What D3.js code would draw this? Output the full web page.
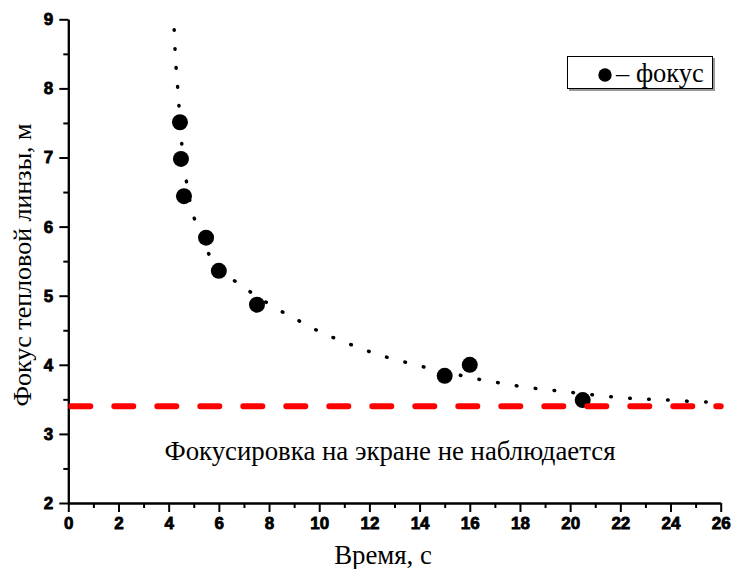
<!DOCTYPE html>
<html><head><meta charset="utf-8">
<script src="https://cdn.jsdelivr.net/npm/d3@7"></script>
<style>html,body{margin:0;padding:0;background:#fff;}
.serif{font-family:"Liberation Serif","Times New Roman",serif;}
</style>
</head><body>
<script>
// Data
const focusTime = [4.45, 4.49, 4.61, 5.49, 6.0, 7.52, 15.0, 16.0, 20.5];
const focusValue = [7.51, 6.98, 6.44, 5.84, 5.36, 4.87, 3.84, 4.0, 3.49];
const fitTime = [4.22, 4.25, 4.29, 4.36, 4.41, 4.50, 4.68, 4.93, 5.54, 6.0, 6.94, 7.6, 8.43, 9.24, 9.92, 10.64, 11.42, 12.14, 12.86, 13.62, 14.36, 15.1, 15.85, 16.6, 17.34, 18.08, 18.83, 19.56, 20.3, 21.06, 21.80, 22.55, 23.28, 24.01, 24.77, 25.51, 25.8];
const fitValue = [8.85, 8.58, 8.31, 8.02, 7.76, 7.23, 6.69, 6.16, 5.61, 5.38, 5.13, 4.97, 4.78, 4.63, 4.49, 4.38, 4.27, 4.17, 4.09, 4.02, 3.95, 3.89, 3.83, 3.77, 3.73, 3.68, 3.65, 3.62, 3.59, 3.56, 3.53, 3.51, 3.50, 3.49, 3.47, 3.46, 3.455];
const thresholdValue = 3.4;
const xTicks = [0, 2, 4, 6, 8, 10, 12, 14, 16, 18, 20, 22, 24, 26];
const yTicks = [2, 3, 4, 5, 6, 7, 8, 9];
const xTitle = "Время, с";
const yTitle = "Фокус тепловой линзы, м";
const noteText = "Фокусировка на экране не наблюдается";
const legendLabel = "– фокус";

const W = 732, H = 569;
const svg = d3.select("body").append("svg").attr("width", W).attr("height", H);

const x = d3.scaleLinear().domain([0, 26]).range([68.3, 720.7]);
const y = d3.scaleLinear().domain([2, 9]).range([503, 19.3]);

// Axes
const tickFont = "'Liberation Sans', Arial, sans-serif";
const xAxis = d3.axisBottom(x).tickValues(xTicks).tickSize(9).tickSizeOuter(0).tickPadding(5).tickFormat(d3.format("d"));
const xMinor = d3.axisBottom(x).tickValues(d3.range(1, 26, 2)).tickSize(5).tickSizeOuter(0).tickFormat("");
const yAxis = d3.axisLeft(y).tickValues(yTicks).tickSize(9).tickSizeOuter(0).tickPadding(6).tickFormat(d3.format("d"));
const yMinor = d3.axisLeft(y).tickValues(d3.range(2.5, 9, 1)).tickSize(5).tickSizeOuter(0).tickFormat("");

function styleAxis(g) {
  g.selectAll("path.domain").attr("stroke", "#000").attr("stroke-width", 2);
  g.selectAll(".tick line").attr("stroke", "#000").attr("stroke-width", 2);
  g.selectAll(".tick text").attr("fill", "#000").style("font-family", tickFont)
    .style("font-weight", "bold").style("font-size", "17px")
    .attr("stroke", "#000").attr("stroke-width", 0.8);
}
svg.append("g").attr("transform", `translate(0,${y(2)})`).call(xMinor).call(styleAxis);
svg.append("g").attr("transform", `translate(0,${y(2)})`).call(xAxis).call(styleAxis);
svg.append("g").attr("transform", `translate(${x(0)},0)`).call(yMinor).call(styleAxis);
svg.append("g").attr("transform", `translate(${x(0)},0)`).call(yAxis).call(styleAxis);

// Fitted dotted curve
const fitData = fitTime.map((t, i) => [t, fitValue[i]]);
const line = d3.line().x(d => x(d[0])).y(d => y(d[1])).curve(d3.curveBasis);
svg.append("path").datum(fitData).attr("d", line)
  .attr("fill", "none").attr("stroke", "#000").attr("stroke-width", 3.5)
  .attr("stroke-linecap", "round").attr("stroke-dasharray", "0.6 18.4");

// Data markers
const pts = focusTime.map((t, i) => [t, focusValue[i]]);
svg.append("g").selectAll("circle").data(pts).join("circle")
  .attr("cx", d => x(d[0])).attr("cy", d => y(d[1])).attr("r", 8).attr("fill", "#000");

// Red threshold line
svg.append("line")
  .attr("x1", x(0)).attr("x2", x(26)).attr("y1", y(thresholdValue)).attr("y2", y(thresholdValue))
  .attr("stroke", "#ff0000").attr("stroke-width", 6).attr("stroke-linecap", "round")
  .attr("stroke-dasharray", "19 24").attr("stroke-dashoffset", -3);

// Annotation
svg.append("text").attr("class", "serif").attr("x", 390).attr("y", 460).attr("text-anchor", "middle")
  .attr("font-size", 26.8).text(noteText);

// Axis titles
svg.append("text").attr("class", "serif").attr("x", 383).attr("y", 564).attr("text-anchor", "middle")
  .attr("font-size", 26.8).text(xTitle);
svg.append("text").attr("class", "serif").attr("transform", "translate(31,265) rotate(-90)").attr("text-anchor", "middle")
  .attr("font-size", 26).text(yTitle);

// Legend
const lg = svg.append("g");
lg.append("rect").attr("x", 569).attr("y", 58).attr("width", 146).attr("height", 33).attr("fill", "#999");
lg.append("rect").attr("x", 567.5).attr("y", 56.5).attr("width", 145).attr("height", 32)
  .attr("fill", "#fff").attr("stroke", "#000").attr("stroke-width", 1);
lg.append("circle").attr("cx", 605).attr("cy", 75).attr("r", 6.7).attr("fill", "#000");
lg.append("text").attr("class", "serif").attr("x", 616).attr("y", 82).attr("font-size", 26.5).text(legendLabel);
</script>
</body></html>
